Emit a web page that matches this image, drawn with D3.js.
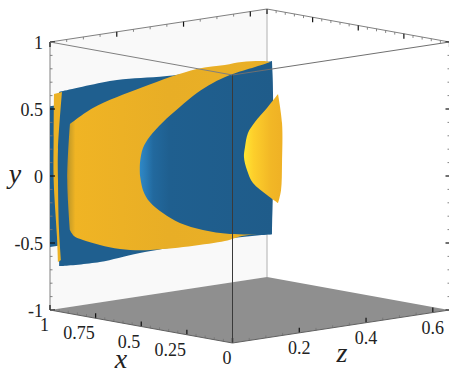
<!DOCTYPE html>
<html><head><meta charset="utf-8">
<style>html,body{margin:0;padding:0;background:#fff}svg{display:block}</style>
<script src="https://cdn.jsdelivr.net/npm/d3@7/dist/d3.min.js"></script></head><body>
<script>
// tick values
const xTicks=[1,0.75,0.5,0.25,0], xTickLabels=["1","0.75","0.5","0.25","0"];
const yTicks=[1,0.5,0,-0.5,-1], yTickLabels=["1","0.5","0","-0.5","-1"];
const zTicks=[0.2,0.4,0.6], zTickLabels=["0.2","0.4","0.6"];
const zMax=0.65;
// isosurface sheets: x plane, and outline pieces as [z,y]
const sheetAx=1.0;
const sheetA=[[[0,.52],[.1,.52]],[[.1,.52],[.1,-.53]],[[.1,-.53],[0,-.53]]];
const sheetCx=.95;
const sheetC=[[[0,.64],[.012,.642],[.173,.663],[.323,.636],[.637,.628]],
 [[.637,.628],[.640,.388],[.640,-.187],[.637,-.663]],
 [[.637,-.663],[.548,-.651],[.242,-.654],[.122,-.676],[.009,-.663],[0,-.66]]];
const sheetBx=.98;
const sheetB=[[[.001,.616],[.025,.622]],[[.025,.622],[.013,.2],[.013,-.03],[.016,-.4],[.022,-.63]],[[.022,-.63],[.013,-.642]],[[.013,-.642],[.010,-.454],[0,-.025],[0,.3],[.001,.616]]];
const sheetDx=.9;
const sheetD=[[[.005,.410],[.074,.504],[.224,.604],[.385,.677],[.469,.675],[.520,.678],[.586,.660],[.604,.646]],
 [[.604,.646],[.604,-.631]],
 [[.604,-.631],[.559,-.621],[.520,-.621],[.469,-.639],[.245,-.621],[.155,-.579],[.095,-.526],[.044,-.47],[.017,-.43],[.005,-.381]],
 [[.005,-.381],[-.003,0],[.005,.410]]];
const sheetEx=.7;
const sheetE=[[[.1055,.041],[.1055,.131],[.1145,.239],[.135,.318],[.174,.410],[.225,.503],[.276,.588],[.324,.645],[.375,.685],[.495,.737],[.501,.745]],
 [[.501,.745],[.504,.501],[.504,-.073],[.501,-.55]],
 [[.501,-.55],[.375,-.501],[.294,-.441],[.225,-.363],[.174,-.269],[.135,-.172],[.1145,-.075],[.1055,.041]]];
const sheetFx=.4;
const sheetF=[[[.355,-.189],[.322,-.116],[.280,-.011],[.262,.093],[.253,.193],[.256,.266],[.265,.368],[.286,.442],[.322,.533],[.355,.625]],
 [[.355,.625],[.367,.404],[.367,.105],[.364,-.096],[.355,-.189]]];

const W=449,H=370;
const xDX=d3.scaleLinear([0,1],[232.5,50]), xDY=d3.scaleLinear([0,1],[0,-33]);
const zDX=d3.scaleLinear([0,zMax],[0,217]), zDY=d3.scaleLinear([0,zMax],[0,-33]);
const yS=d3.scaleLinear([-1,1],[343,75]);
const P=(x,y,z)=>[xDX(x)+zDX(z),yS(y)+xDY(x)+zDY(z)];
const svg=d3.select("body").append("svg").attr("width",W).attr("height",H);
const defs=svg.append("defs");
function grad(id,stops){const g=defs.append("linearGradient").attr("id",id);
 stops.forEach(s=>g.append("stop").attr("offset",s[0]).attr("stop-color",s[1]));}
grad("gBlue",[[0,"#1f5f8f"],[1,"#1f5f8f"]]);
grad("gBlueE",[[0,"#2e88c6"],[.04,"#2a7db8"],[.1,"#22699e"],[.22,"#1f5f8f"],[1,"#1f5c8a"]]);
grad("gYel",[[0,"#b98f2a"],[.015,"#cfa126"],[.04,"#f0b424"],[.5,"#e8ae26"],[1,"#eab026"]]);
grad("gYelF",[[0,"#ffe633"],[.25,"#fdcf2b"],[.7,"#f2b726"],[1,"#efb125"]]);
const line=d3.line().curve(d3.curveCatmullRom.alpha(.5));
const poly=pts=>"M"+pts.map(p=>p.join(",")).join("L")+"Z";
const lineSeg=(a,b,c,w)=>svg.append("line").attr("x1",a[0]).attr("y1",a[1]).attr("x2",b[0]).attr("y2",b[1]).attr("stroke",c).attr("stroke-width",w);

// walls
svg.append("path").attr("d",poly([P(1,1,0),P(1,1,zMax),P(1,-1,zMax),P(1,-1,0)])).attr("fill","#f9f9f9");
svg.append("path").attr("d",poly([P(1,-1,0),P(0,-1,0),P(0,-1,zMax),P(1,-1,zMax)])).attr("fill","#8f8f8f");
// back frame
lineSeg(P(1,1,0),P(1,1,zMax),"#808080",1);
lineSeg(P(1,1,zMax),P(0,1,zMax),"#808080",1);
lineSeg(P(1,1,zMax),P(1,-1,zMax),"#b0b0b0",1);
lineSeg(P(1,1,0),P(1,-1,0),"#808080",1);
// ticks
const minor=d3.range(0,21).map(i=>i*.05), zMinor=d3.range(0,14).map(i=>i*.05), yMinor=d3.range(-10,11).map(i=>i/10);
const isMajor=(v,s)=>Math.abs(v/s-Math.round(v/s))<1e-6;
function tickV(p,len,major){lineSeg(p,[p[0],p[1]+len],major?"#111":"#777",major?1.2:.9);}
minor.forEach(v=>{const m=isMajor(v,.25);
 tickV(P(v,-1,0),-(m?5:2.5),m); tickV(P(v,1,zMax),m?5:2.5,m);});
zMinor.forEach(v=>{const m=isMajor(v,.2);
 tickV(P(0,-1,v),-(m?5:2.5),m); tickV(P(1,1,v),m?5:2.5,m);});

// sheets
function sheet(x,pieces,fill){
 const d=pieces.map((seg,i)=>{const s=line(seg.map(q=>P(x,q[1],q[0])));return i?"L"+s.slice(1):s;}).join("")+"Z";
 svg.append("path").attr("d",d).attr("fill",fill);
}
sheet(sheetAx,sheetA,"url(#gBlue)");
sheet(sheetCx,sheetC,"url(#gBlue)");
sheet(sheetBx,sheetB,"#ecb225");
sheet(sheetDx,sheetD,"url(#gYel)");
sheet(sheetEx,sheetE,"url(#gBlueE)");
sheet(sheetFx,sheetF,"url(#gYelF)");

// y ticks and front frame
yMinor.forEach(v=>{const m=isMajor(v,.5);const a=P(1,v,0),b=P(0,v,zMax);
 lineSeg(a,[a[0]+(m?5:2.5),a[1]],m?"#111":"#777",m?1.2:.9);
 lineSeg(b,[b[0]-(m?4:2),b[1]],m?"#111":"#777",m?1.2:.9);});
lineSeg(P(1,1,0),P(0,1,0),"#808080",1);
lineSeg(P(0,1,0),P(0,-1,0),"#3a3a3a",1);
lineSeg(P(0,1,0),P(0,1,zMax),"#707070",1);
lineSeg(P(1,-1,0),P(0,-1,0),"#606060",1);
lineSeg(P(0,-1,0),P(0,-1,zMax),"#606060",1);

// labels
const serif="'Liberation Serif','Times New Roman',Times,serif";
const fs=18;
const tx=(t,x,y,a,s,st)=>svg.append("text").attr("x",x).attr("y",y).attr("text-anchor",a)
 .style("font-family",serif).style("font-size",s+"px").style("font-style",st||"normal").style("fill","#222").text(t);
yTicks.forEach((v,i)=>{const p=P(1,v,0);tx(yTickLabels[i],p[0]-7,p[1]+6.5,"end",fs);});
xTicks.forEach((v,i)=>{const p=P(v,-1,0);tx(xTickLabels[i],p[0]-1,p[1]+21,"end",fs);});
zTicks.forEach((v,i)=>{const p=P(0,-1,v);tx(zTickLabels[i],p[0],p[1]+21,"middle",fs);});
tx("y",15,183,"middle",28,"italic");tx("x",121,368,"middle",28,"italic");tx("z",342,362,"middle",28,"italic");
</script></body></html>
